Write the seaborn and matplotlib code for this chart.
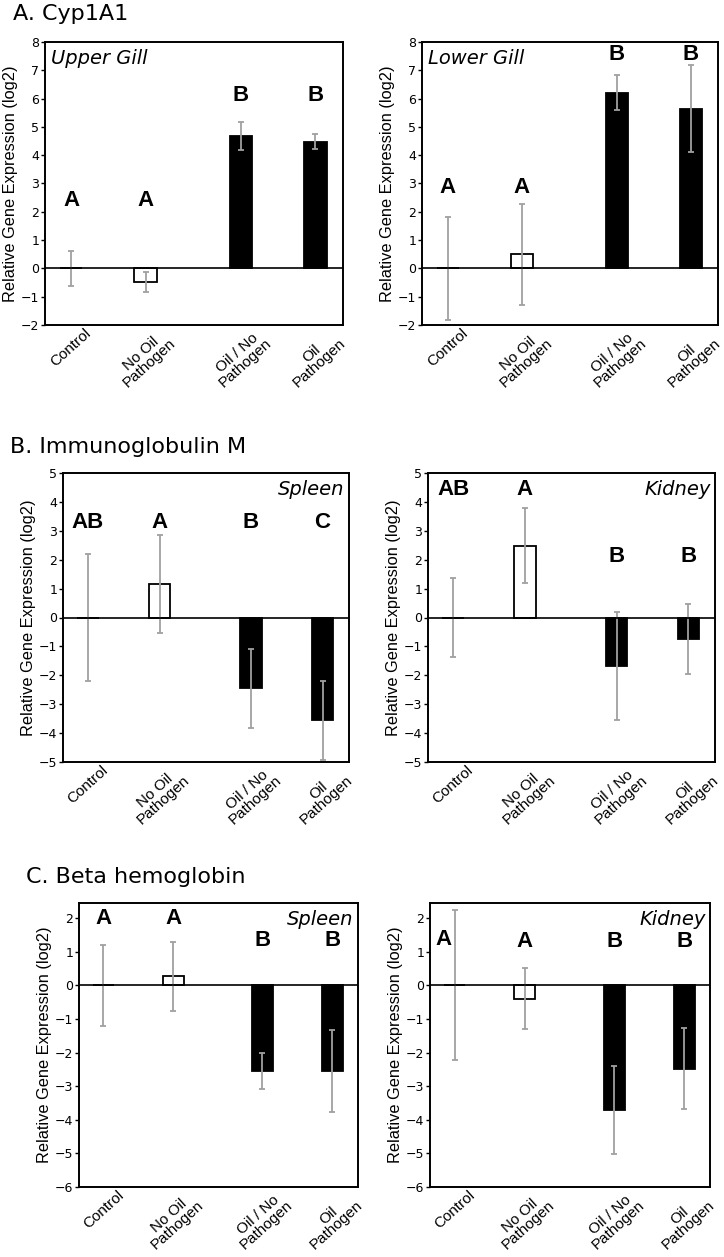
import seaborn as sns
import matplotlib.pyplot as plt
import pandas as pd

groups = ['Control', 'No Oil\nPathogen', 'Oil / No\nPathogen', 'Oil\nPathogen']
group_x = [0, 1, 2.28, 3.28]
bar_colors = ['white', 'white', 'black', 'black']

# mean log2 expression and half-width of error bars, per panel
cyp_upper = [0.0, -0.47, 4.68, 4.48]
cyp_upper_err = [0.63, 0.36, 0.48, 0.26]
cyp_lower = [0.0, 0.50, 6.20, 5.65]
cyp_lower_err = [1.83, 1.78, 0.62, 1.54]
igm_spleen = [0.0, 1.16, -2.45, -3.55]
igm_spleen_err = [2.21, 1.71, 1.36, 1.37]
igm_kidney = [0.0, 2.49, -1.67, -0.75]
igm_kidney_err = [1.35, 1.30, 1.86, 1.20]
hb_spleen = [0.0, 0.27, -2.54, -2.54]
hb_spleen_err = [1.20, 1.03, 0.53, 1.22]
hb_kidney = [0.0, -0.40, -3.71, -2.48]
hb_kidney_err = [2.23, 0.91, 1.30, 1.21]

cyp_upper_letters = ['A', 'A', 'B', 'B']
cyp_lower_letters = ['A', 'A', 'B', 'B']
igm_spleen_letters = ['AB', 'A', 'B', 'C']
igm_kidney_letters = ['AB', 'A', 'B', 'B']
hb_spleen_letters = ['A', 'A', 'B', 'B']
hb_kidney_letters = ['A', 'A', 'B', 'B']

W, H = 724, 1257
fig = plt.figure(figsize=(W / 100, H / 100), dpi=100)
sns.set_style('white')
plt.rcParams['font.family'] = ['Liberation Sans', 'DejaVu Sans']
plt.rcParams['text.color'] = 'black'
plt.rcParams['axes.labelcolor'] = 'black'
plt.rcParams['xtick.color'] = 'black'
plt.rcParams['ytick.color'] = 'black'


def panel(box, values, errs, letters, letter_y, ylim, label, label_left, letter_dx=None):
    x0, y0, x1, y1 = box
    ax = fig.add_axes([x0 / W, 1 - y1 / H, (x1 - x0) / W, (y1 - y0) / H])
    df = pd.DataFrame({'x': group_x, 'value': values, 'group': groups})
    sns.barplot(data=df, x='x', y='value', hue='group', palette=dict(zip(groups, bar_colors)),
                native_scale=True, dodge=False, width=0.3, edgecolor='black', linewidth=1.3,
                legend=False, errorbar=None, ax=ax)
    ax.errorbar(group_x, values, yerr=errs, fmt='none', ecolor='#a0a0a0', elinewidth=1.3,
                capsize=2, capthick=1.3, zorder=5)
    ax.axhline(0, color='black', lw=1.2, zorder=6)
    ax.set_xlim(-0.35, 3.65)
    ax.set_ylim(*ylim)
    ax.set_yticks(range(int(ylim[0]), int(ylim[1]) + 1))
    ax.tick_params(axis='y', length=3, width=1, labelsize=9, pad=1, left=True)
    for t in ax.get_yticklabels():
        t.set_family('DejaVu Sans')
    ax.set_xticks(group_x)
    ax.set_xticklabels(groups, rotation=42, ha='center', va='top',
                       multialignment='center', fontsize=11, linespacing=0.85)
    ax.tick_params(axis='x', length=0, pad=1)
    ax.set_xlabel('')
    ax.set_ylabel('Relative Gene Expression (log2)', fontsize=11.8, labelpad=2)
    for s in ax.spines.values():
        s.set_color('black')
        s.set_linewidth(1.4)
    dx = letter_dx or [0, 0, 0, 0]
    for xi, lt, ly, d in zip(group_x, letters, letter_y, dx):
        ax.text(xi + d, ly, lt, ha='center', va='center', fontsize=16, fontweight='bold')
    if label_left:
        ax.text(0.02, 0.975, label, transform=ax.transAxes, ha='left', va='top',
                fontsize=14, style='italic', family='DejaVu Sans')
    else:
        ax.text(0.985, 0.975, label, transform=ax.transAxes, ha='right', va='top',
                fontsize=14, style='italic', family='DejaVu Sans')
    return ax


panel((45, 42, 343, 325), cyp_upper, cyp_upper_err, cyp_upper_letters,
      [2.4, 2.4, 6.1, 6.1], (-2, 8), 'Upper Gill', True)
panel((422, 42, 718, 325), cyp_lower, cyp_lower_err, cyp_lower_letters,
      [2.85, 2.85, 7.55, 7.55], (-2, 8), 'Lower Gill', True)
panel((63, 473, 349, 762), igm_spleen, igm_spleen_err, igm_spleen_letters,
      [3.3, 3.3, 3.3, 3.3], (-5, 5), 'Spleen', False)
panel((428, 473, 715, 762), igm_kidney, igm_kidney_err, igm_kidney_letters,
      [4.44, 4.44, 2.1, 2.1], (-5, 5), 'Kidney', False)
panel((79, 903, 358, 1187), hb_spleen, hb_spleen_err, hb_spleen_letters,
      [2.0, 2.0, 1.33, 1.33], (-6, 2.45), 'Spleen', False)
panel((430, 903, 710, 1187), hb_kidney, hb_kidney_err, hb_kidney_letters,
      [1.35, 1.3, 1.3, 1.3], (-6, 2.45), 'Kidney', False, letter_dx=[-0.16, 0, 0, 0])

fig.text(13 / W, 1 - 14 / H, 'A. Cyp1A1', fontsize=16, va='center', ha='left', family='DejaVu Sans')
fig.text(10 / W, 1 - 447 / H, 'B. Immunoglobulin M', fontsize=16, va='center', ha='left', family='DejaVu Sans')
fig.text(26 / W, 1 - 877 / H, 'C. Beta hemoglobin', fontsize=16, va='center', ha='left', family='DejaVu Sans')

fig.savefig('out.png', dpi=100)
